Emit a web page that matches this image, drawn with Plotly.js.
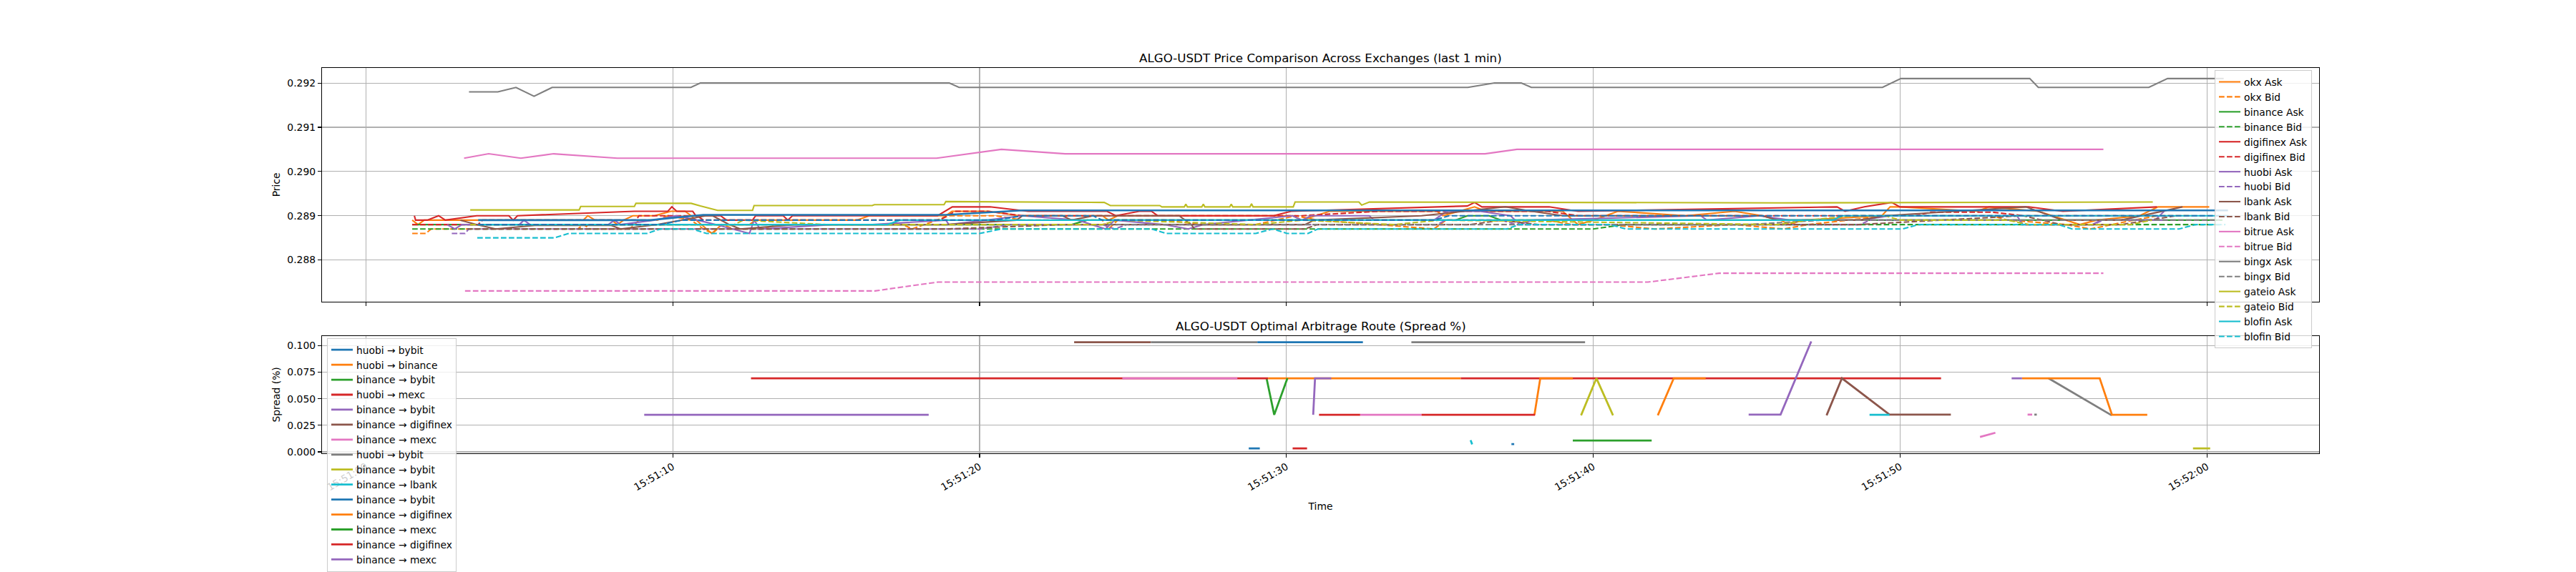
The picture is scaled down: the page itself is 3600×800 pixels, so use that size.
<!DOCTYPE html>
<html><head><meta charset="utf-8">
<script src="https://cdn.plot.ly/plotly-3.0.1.min.js"></script>
<style>html,body{margin:0;padding:0;background:#fff}</style>
</head><body><div id="chart" style="width:3600px;height:800px"></div>
<script>
// ---- time axis: seconds after 15:51:00 ----
const xRangeSec = [-1.43, 63.65];

// ---- price series (t = seconds after 15:51:00, p = price) ----
const okxAskT = [1.51,1.7,1.9,7.08,7.23,7.47,8.0,8.2,8.4,8.7,9.4,9.94,10.4,10.6,11.27,11.6,12.5,12.7,16.0,16.4,18.9,19.1,20.3,21.3,24.0,24.2,24.5,30.2,30.5,31.4,34.9,35.1,36.13,36.5,39.0,39.5,40.0,40.8,43.0,44.6,45.5,46.1,46.4,46.8,49.4,49.67,50.0,52.5,52.9,54.5,55.85,56.4,57.8,58.4,60.07];
const okxAskP = [.2889,.2888,.2889,.2889,.2890,.2889,.2889,.2888,.2889,.2890,.2890,.2891,.2891,.2890,.2886,.2888,.2888,.2889,.2889,.2890,.2890,.2891,.2891,.2890,.2890,.2889,.2890,.2890,.2889,.2891,.2891,.2890,.2892,.2891,.2891,.2888,.2889,.2891,.2890,.2891,.2890,.2889,.2888,.2889,.2890,.2892,.2892,.2891,.2892,.2891,.2888,.2889,.2890,.2892,.2892];
const okxBidT = [1.51,1.95,2.13,6.9,7.1,7.3,8.6,8.9,9.5,9.84,10.6,11.0,11.3,11.6,12.0,13.0,13.3,17.5,17.8,18.2,19.0,20.5,21.4,24.0,24.2,24.5,26.0,27.3,29.0,30.3,31.0,33.0,34.8,35.2,38.5,39.3,40.5,42.0,44.6,46.2,47.0,49.6,53.0,53.5,55.4,56.2,57.6,58.4,59.5];
const okxBidP = [.2886,.2886,.2887,.2887,.2888,.2887,.2887,.2889,.2889,.2890,.2889,.2887,.2886,.2888,.2887,.2887,.2888,.2888,.2887,.2888,.2890,.2890,.2889,.2889,.2887,.2889,.2889,.2888,.2888,.2890,.2889,.2888,.2887,.2889,.2889,.2888,.2888,.2887,.2888,.2887,.2888,.2890,.2890,.2889,.2888,.2887,.2889,.2890,.2890];
const binanceAskT = [1.51,23.0,23.5,35.5,35.9,36.6,37.0,60.5];
const binanceAskP = [.2888,.2888,.2889,.2889,.2890,.2890,.2889,.2889];
const binanceBidT = [1.51,40.0,41.0,60.5];
const binanceBidP = [.2887,.2887,.2888,.2888];
const digifinexAskT = [1.58,1.62,2.0,2.37,2.59,3.61,4.66,4.8,4.94,8.75,9.84,9.97,10.13,10.65,10.75,11.56,11.75,12.6,12.7,13.6,13.75,13.9,18.63,19.11,20.34,21.58,24.15,24.44,25.2,25.6,25.8,29.58,30.15,35.89,36.13,36.37,38.56,39.5,47.94,48.2,48.83,49.72,49.99,54.18,55.3,58.37];
const digifinexAskP = [.2890,.2889,.2889,.2890,.2889,.2890,.2890,.2889,.2890,.2891,.2891,.2892,.2891,.2891,.2890,.2890,.2889,.2889,.2890,.2890,.2889,.2890,.2890,.2892,.2892,.2891,.2891,.2890,.2891,.2891,.2890,.2890,.2891,.28922,.2893,.2892,.2892,.2891,.2892,.2891,.2892,.2893,.2892,.2892,.2891,.2892];
const digifinexBidT = [1.51,3.66,3.8,8.8,8.9,10.8,11.0,18.7,19.2,20.25,21.4,30.5,33.0,38.5,39.5,50.5,51.0,53.0,54.0,58.4];
const digifinexBidP = [.2888,.2888,.2889,.2889,.2890,.2890,.2889,.2889,.2891,.2891,.2890,.2890,.2891,.2891,.2890,.2890,.28908,.28908,.2890,.2890];
const huobiAskT = [2.65,2.9,3.13,5.0,5.15,5.35,7.9,8.1,8.3,9.4,10.1,10.8,11.4,12.5,12.65,12.85,15.2,16.5,18.9,19.0,21.4,23.2,24.1,24.4,26.0,26.8,27.3,30.2,30.5,30.8,32.7,32.85,34.8,35.22,36.3,37.3,37.6,38.0,43.5,43.7,45.4,46.4,48.7,49.67,53.8,54.0,56.25,56.55,58.3,58.6];
const huobiAskP = [.2888,.2887,.2888,.2888,.2889,.2888,.2888,.2889,.2888,.2889,.2890,.2889,.2888,.2886,.2889,.2887,.2888,.2888,.2889,.2888,.2890,.2889,.2887,.2889,.2888,.2887,.2888,.2890,.2889,.2890,.2890,.2889,.2889,.2891,.2891,.2890,.2888,.2889,.2890,.2889,.2890,.2889,.2889,.2890,.2890,.2888,.2888,.2889,.2889,.2891];
const huobiBidT = [2.8,3.23,3.35,20.0,21.0,24.0,24.4,24.8,34.9,35.2,37.0,37.5,48.7,49.0,53.8,54.0,56.3,56.6,58.6];
const huobiBidP = [.2886,.2886,.2887,.2887,.2888,.2888,.2887,.2888,.2888,.2889,.2889,.2888,.2888,.2889,.2889,.2888,.2888,.2889,.2889];
const lbankAskT = [3.08,3.6,4.23,5.5,8.0,8.3,9.5,11.08,11.3,11.84,12.2,14.0,18.9,21.2,21.4,22.7,23.0,23.7,26.5,26.9,30.6,30.9,34.4,37.13,38.0,39.0,45.5,46.0,48.7,49.5,54.09,55.3,57.2,59.2];
const lbankAskP = [.2889,.2888,.2887,.28878,.28878,.2887,.2888,.2890,.2890,.2888,.2887,.2888,.2888,.2889,.2890,.2890,.2889,.2890,.2890,.2888,.2888,.2889,.2890,.2892,.2891,.2890,.2890,.2889,.2889,.2890,.2892,.2889,.2889,.2892];
const lbankBidT = [3.3,18.9,22.8,26.9,27.0,30.6,31.0,36.0,37.0,38.2,48.65,54.0,55.25,57.2,59.0];
const lbankBidP = [.2887,.2887,.2888,.2888,.2887,.2887,.2888,.2888,.2889,.2888,.2888,.2890,.2888,.2888,.2890];
const bitrueAskT = [3.2,4.0,5.05,6.12,8.19,18.6,20.71,22.79,36.47,37.51,56.62];
const bitrueAskP = [.2903,.2904,.2903,.2904,.2903,.2903,.2905,.2904,.2904,.2905,.2905];
const bitrueBidT = [3.23,16.59,17.6,18.64,41.78,42.9,44.1,56.62];
const bitrueBidP = [.2873,.2873,.2874,.2875,.2875,.2876,.2877,.2877];
const bingxAskT = [3.36,4.30,4.89,5.48,6.07,10.59,10.9,19.01,19.33,35.91,36.78,37.65,37.98,49.42,50.02,54.22,54.5,58.1,58.71,60.54];
const bingxAskP = [.2918,.2918,.2919,.2917,.2919,.2919,.2920,.2920,.2919,.2919,.2920,.2920,.2919,.2919,.2921,.2921,.2919,.2919,.2921,.2921];
const bingxBidT = [3.4,45.0,47.5,60.4];
const bingxBidP = [.2888,.2888,.2889,.2889];
const gateioAskT = [3.40,6.95,7.0,8.75,8.8,10.6,10.9,11.46,12.6,12.65,16.5,16.57,18.84,18.9,24.06,24.26,25.87,25.94,26.67,26.72,26.77,27.24,27.29,27.34,28.15,28.2,28.25,28.81,28.86,28.91,30.22,30.28,32.36,32.45,32.7,42.4,46.1,58.23];
const gateioAskP = [.28913,.28913,.28921,.28921,.28928,.28928,.28922,.28912,.28912,.28923,.28923,.28925,.28925,.28932,.28930,.28923,.28923,.2892,.2892,.28926,.2892,.2892,.28926,.2892,.2892,.28926,.2892,.2892,.28927,.2892,.2892,.28931,.28931,.28924,.28931,.28929,.28929,.28931];
const gateioBidT = [3.4,12.0,12.3,15.0,24.0,24.5,29.0,30.5,33.5,35.0,46.0,47.0,48.5,49.5,50.0,53.5,54.2,57.5,58.2];
const gateioBidP = [.2888,.2888,.2889,.2888,.2888,.2889,.2888,.2889,.2888,.2889,.2888,.2889,.2890,.2890,.2889,.2889,.2888,.2888,.2889];
const blofinAskT = [3.66,17.0,17.4,47.8,48.1,60.7];
const blofinAskP = [.2888,.2888,.2889,.2889,.2890,.2890];
const blofinBidT = [3.63,6.15,6.61,9.16,9.6,10.63,11.1,20.0,20.71,25.6,26.07,29.0,29.55,30.02,30.7,31.02,37.18,37.58,40.53,41.07,50.08,50.6,55.16,55.6,59.09,59.62,60.6];
const blofinBidP = [.2885,.2885,.2886,.2886,.2887,.2887,.2886,.2886,.2887,.2887,.2886,.2886,.2887,.2886,.2886,.2887,.2887,.2888,.2888,.2887,.2887,.2888,.2888,.2887,.2887,.2888,.2888];
const mexcAskT = [3.66,9.27,10.99,18.9,21.4,60.68];
const mexcAskP = [.2889,.2889,.28902,.28902,.28912,.28912];
const mexcBidT = [3.66,9.6,10.3,20.5,21.4,23.7,24.0,34.8,35.3,60.8];
const mexcBidP = [.2888,.2888,.2889,.2889,.2890,.2890,.2889,.2889,.2890,.2890];

// ---- arbitrage route segments (t = seconds after 15:51:00, s = spread %) ----
const routeLabels = ['huobi → bybit','huobi → binance','binance → bybit','huobi → mexc','binance → bybit','binance → digifinex','binance → mexc','huobi → bybit','binance → bybit','binance → lbank','binance → bybit','binance → digifinex','binance → mexc','binance → digifinex','binance → mexc'];
const route0T = [29.05,32.49];                 const route0S = [0.1033,0.1033];
const route1T = [29.4,35.68];                  const route1S = [0.0693,0.0693];
const route2T = [29.35,29.6,30.03];            const route2S = [0.0693,0.0349,0.0693];
const route3T = [12.55,29.4,null,35.68,51.33]; const route3S = [0.0693,0.0693,null,0.0693,0.0693];
const route4T = [9.07,18.34];                  const route4S = [0.0349,0.0349];
const route5T = [23.08,25.58,null,47.6,48.1,49.65,51.65];
const route5S = [0.1033,0.1033,null,0.0344,0.0693,0.0351,0.0351];
const route6T = [24.65,28.4,null,32.4,34.4,null,52.6,53.1,null,54.15,54.3];
const route6S = [0.0693,0.0693,null,0.0349,0.0349,null,0.014,0.018,null,0.0351,0.0351];
const route7T = [25.58,29.05,null,34.07,39.73,null,54.37,54.45,null,54.83,56.89];
const route7S = [0.1033,0.1033,null,0.1033,0.1033,null,0.0351,0.0351,null,0.0693,0.0344];
const route8T = [39.6,40.1,40.64,null,59.54,60.1];
const route8S = [0.0344,0.0693,0.0344,null,0.0033,0.0033];
const route9T = [36.0,36.05,null,49.0,49.65];  const route9S = [0.011,0.007,null,0.0349,0.0349];
const route10T = [28.77,29.13,null,37.33,37.42]; const route10S = [0.0033,0.0033,null,0.0073,0.0073];
const route11T = [38.08,38.27,39.33,null,42.1,42.62,43.66,null,53.97,56.5,56.9,58.05];
const route11S = [0.0349,0.0693,0.0693,null,0.0344,0.0693,0.0693,null,0.0693,0.0693,0.0349,0.0349];
const route12T = [39.33,41.9];                 const route12S = [0.0107,0.0107];
const route13T = [30.2,30.67,null,31.06,32.4,null,34.4,38.1];
const route13S = [0.0033,0.0033,null,0.0349,0.0349,null,0.0349,0.0349];
const route14T = [30.87,30.93,31.46,null,45.06,46.1,47.1,null,53.63,53.97];
const route14S = [0.0349,0.0693,0.0693,null,0.0351,0.0351,0.104,null,0.0693,0.0693];

// ---- styling ----
const TAB = ['#1f77b4','#ff7f0e','#2ca02c','#d62728','#9467bd','#8c564b','#e377c2','#7f7f7f','#bcbd22','#17becf'];
const FONT = 'DejaVu Sans';
const DASH = '7.7px,3.3px';

function ts(t){
  if(t === null) return null;
  const total = 51*60 + t;
  const m = Math.floor(total/60);
  const s = total - m*60;
  const hh = 15 + Math.floor(m/60);
  const mm = m % 60;
  return '2024-01-01 ' + hh + ':' + String(mm).padStart(2,'0') + ':' + s.toFixed(3).padStart(6,'0');
}

const priceDefs = [
  ['okx Ask', okxAskT, okxAskP, 1, false, true],
  ['okx Bid', okxBidT, okxBidP, 1, true, true],
  ['binance Ask', binanceAskT, binanceAskP, 2, false, true],
  ['binance Bid', binanceBidT, binanceBidP, 2, true, true],
  ['digifinex Ask', digifinexAskT, digifinexAskP, 3, false, true],
  ['digifinex Bid', digifinexBidT, digifinexBidP, 3, true, true],
  ['huobi Ask', huobiAskT, huobiAskP, 4, false, true],
  ['huobi Bid', huobiBidT, huobiBidP, 4, true, true],
  ['lbank Ask', lbankAskT, lbankAskP, 5, false, true],
  ['lbank Bid', lbankBidT, lbankBidP, 5, true, true],
  ['bitrue Ask', bitrueAskT, bitrueAskP, 6, false, true],
  ['bitrue Bid', bitrueBidT, bitrueBidP, 6, true, true],
  ['bingx Ask', bingxAskT, bingxAskP, 7, false, true],
  ['bingx Bid', bingxBidT, bingxBidP, 7, true, true],
  ['gateio Ask', gateioAskT, gateioAskP, 8, false, true],
  ['gateio Bid', gateioBidT, gateioBidP, 8, true, true],
  ['blofin Ask', blofinAskT, blofinAskP, 9, false, true],
  ['blofin Bid', blofinBidT, blofinBidP, 9, true, true],
  ['mexc Ask', mexcAskT, mexcAskP, 0, false, false],
  ['mexc Bid', mexcBidT, mexcBidP, 0, true, false]
];

const traces = [];
priceDefs.forEach(function(d){
  traces.push({
    type:'scatter', mode:'lines', name:d[0],
    x:d[1].map(ts), y:d[2], xaxis:'x', yaxis:'y',
    line:{color:TAB[d[3]], width:(d[0]==='mexc Ask'?2.6:2.1), dash:(d[4]?DASH:'solid')},
    showlegend:d[5], legend:'legend', hoverinfo:'skip'
  });
});

const routeT = [route0T,route1T,route2T,route3T,route4T,route5T,route6T,route7T,route8T,route9T,route10T,route11T,route12T,route13T,route14T];
const routeS = [route0S,route1S,route2S,route3S,route4S,route5S,route6S,route7S,route8S,route9S,route10S,route11S,route12S,route13S,route14S];
routeLabels.forEach(function(lbl, i){
  traces.push({
    type:'scatter', mode:'lines', name:lbl,
    x:routeT[i].map(ts), y:routeS[i], xaxis:'x2', yaxis:'y2',
    line:{color:TAB[i % 10], width:2.8}, connectgaps:false,
    legend:'legend2', hoverinfo:'skip'
  });
});

const axisCommon = {
  showline:true, mirror:true, linecolor:'#000', linewidth:1.1,
  ticks:'outside', ticklen:5, tickwidth:1.1, tickcolor:'#000',
  showgrid:true, gridcolor:'#b0b0b0', gridwidth:1.1, zeroline:false,
  tickfont:{family:FONT, size:13.9, color:'#000'}
};
const xCommon = Object.assign({}, axisCommon, {
  type:'date', range:[ts(xRangeSec[0]), ts(xRangeSec[1])],
  tick0:ts(0), dtick:10000, tickformat:'%H:%M:%S'
});

const legendFont = {family:FONT, size:13.8, color:'#000'};

const layout = {
  width:3600, height:800, autosize:false,
  margin:{l:450, r:359, t:0, b:0, pad:0},
  paper_bgcolor:'#ffffff', plot_bgcolor:'#ffffff',
  font:{family:FONT, size:13.9, color:'#000'},
  showlegend:true,
  xaxis:Object.assign({}, xCommon, {anchor:'y', domain:[0,1], showticklabels:false}),
  yaxis:Object.assign({}, axisCommon, {anchor:'x', domain:[0.4675,0.88], range:[0.28706,0.29234],
    tick0:0.288, dtick:0.001, tickformat:'.3f',
    title:{text:'Price', font:{family:FONT, size:13.9, color:'#000'}, standoff:6}}),
  xaxis2:Object.assign({}, xCommon, {anchor:'y2', domain:[0,1], showticklabels:true, tickangle:-30,
    title:{text:'Time', font:{family:FONT, size:13.9, color:'#000'}, standoff:15}}),
  yaxis2:Object.assign({}, axisCommon, {anchor:'x2', domain:[0.2,0.40625], range:[-0.0011,0.1089],
    tick0:0, dtick:0.025, tickformat:'.3f',
    title:{text:'Spread (%)', font:{family:FONT, size:13.9, color:'#000'}, standoff:6}}),
  legend:{x:0.94769, xanchor:'left', y:0.87625, yanchor:'top', xref:'paper', yref:'paper',
    bgcolor:'rgba(255,255,255,0.8)', bordercolor:'#cccccc', borderwidth:1,
    font:legendFont, tracegroupgap:0},
  legend2:{x:0.0025, xanchor:'left', y:0.403125, yanchor:'top', xref:'paper', yref:'paper',
    bgcolor:'rgba(255,255,255,0.8)', bordercolor:'#cccccc', borderwidth:1,
    font:legendFont, tracegroupgap:0},
  annotations:[
    {text:'ALGO-USDT Price Comparison Across Exchanges (last 1 min)', xref:'paper', yref:'paper',
     x:0.5, y:0.898, xanchor:'center', yanchor:'middle', showarrow:false,
     font:{family:FONT, size:16.7, color:'#000'}},
    {text:'ALGO-USDT Optimal Arbitrage Route (Spread %)', xref:'paper', yref:'paper',
     x:0.5, y:0.4241, xanchor:'center', yanchor:'middle', showarrow:false,
     font:{family:FONT, size:16.7, color:'#000'}}
  ],
  hovermode:false
};

Plotly.newPlot('chart', traces, layout, {staticPlot:true, displayModeBar:false});
</script>
</body></html>
